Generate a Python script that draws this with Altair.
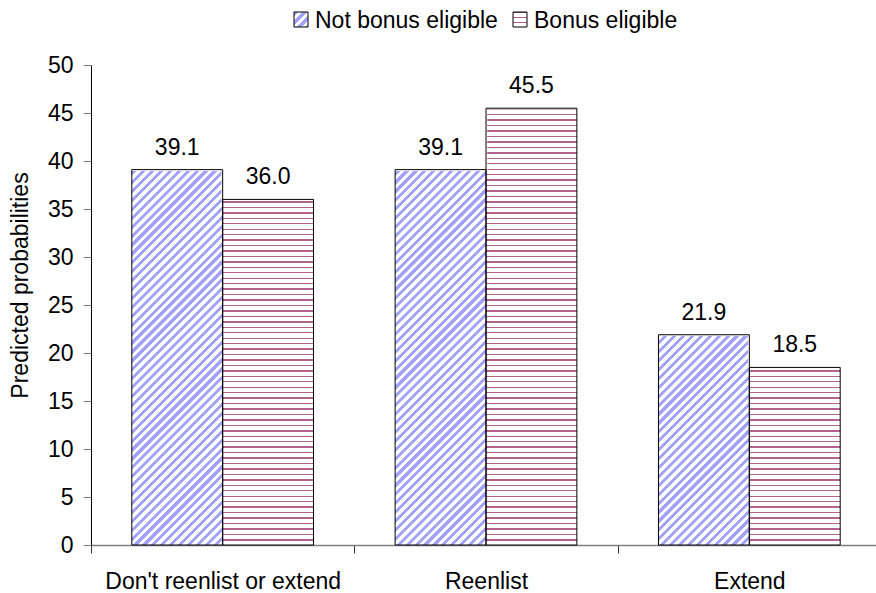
import math

import altair as alt
import pandas as pd

# ---- data -------------------------------------------------------------
categories = ["Don't reenlist or extend", "Reenlist", "Extend"]
series = ["Not bonus eligible", "Bonus eligible"]
not_bonus = [39.1, 39.1, 21.9]
bonus = [36.0, 45.5, 18.5]
y_ticks = [0, 5, 10, 15, 20, 25, 30, 35, 40, 45, 50]

rows = []
for cat, a, b in zip(categories, not_bonus, bonus):
    rows.append({"category": cat, "series": series[0], "value": a})
    rows.append({"category": cat, "series": series[1], "value": b})
df = pd.DataFrame(rows)

# ---- layout / style ---------------------------------------------------
Y_MAX = 50
PLOT_W, PLOT_H = 785, 480
X_RANGE = 790             # category axis runs slightly past the right edge
OFFSET_PAD = 0.449        # outer padding of the two bars inside a category
FONT = "Liberation Sans"
FS = 23

BLUE = "#a3a3ff"
MAROON = "#b2628b"

step = X_RANGE / len(categories)
bar_w = step / (2 + 2 * OFFSET_PAD)


def stripe_stops(color, count, duty):
    """Hard-edged repeating stops: `count` stripes of `color` over white."""
    stops = []
    i = 0
    while i < count:
        a = round(min(i / count, 1), 5)
        b = round(min((i + duty) / count, 1), 5)
        c = round(min((i + 1) / count, 1), 5)
        stops += [
            {"offset": a, "color": color},
            {"offset": b, "color": color},
            {"offset": b, "color": "white"},
            {"offset": c, "color": "white"},
        ]
        i += 1
    return stops


def diagonal_hatch(color, w, h, period, duty):
    # gradient vector chosen so stripes run at 45 degrees in pixel space
    k = (w + h) / (w * w + h * h)
    return {
        "gradient": "linear",
        "x1": 0, "y1": 0, "x2": round(k * w, 5), "y2": round(k * h, 5),
        "stops": stripe_stops(color, (w + h) / (math.sqrt(2) * period), duty),
    }


def horizontal_hatch(color, h, period, duty):
    return {
        "gradient": "linear",
        "x1": 0, "y1": 0, "x2": 0, "y2": 1,
        "stops": stripe_stops(color, h / period, duty),
    }


blue_fill = diagonal_hatch(BLUE, bar_w, PLOT_H, 6.3, 0.47)
red_fill = horizontal_hatch(MAROON, PLOT_H, 5.45, 0.25)
blue_swatch = diagonal_hatch(BLUE, 14, 15, 6.3, 0.47)
red_swatch = horizontal_hatch(MAROON, 15, 5.0, 0.28)

# ---- shared encodings -------------------------------------------------
x_axis = alt.Axis(
    title=None, labelAngle=0, labelFontSize=FS, labelColor="black",
    labelPadding=17, labelLimit=400, tickSize=8, tickColor="#333333",
    domainColor="#808080", domainWidth=1.5, tickBand="extent",
)
y_axis = alt.Axis(
    title="Predicted probabilities", values=y_ticks, grid=False,
    tickSize=8, tickColor="#808080", domainColor="black",
    labelFontSize=FS, labelColor="black", labelPadding=10,
    titleFontSize=FS, titleFontWeight="normal", titleColor="black",
    titleX=-71, titleY=220, titleAngle=270, titleBaseline="middle",
    titleLimit=600,
)
x_enc = alt.X(
    "category:N", sort=categories, axis=x_axis,
    scale=alt.Scale(domain=categories, range=[0, X_RANGE],
                    paddingInner=0, paddingOuter=0),
)
off_enc = alt.XOffset(
    "series:N", sort=series,
    scale=alt.Scale(domain=series, paddingInner=0, paddingOuter=OFFSET_PAD),
)
y_scale = alt.Scale(domain=[0, Y_MAX], nice=False)

base = alt.Chart(df).transform_calculate(top=str(Y_MAX))

# hatched fills cover the full plot height, then get trimmed to each value
blue_bars = base.transform_filter(alt.datum.series == series[0]).mark_bar(
    fill=blue_fill, strokeWidth=0
).encode(x=x_enc, xOffset=off_enc,
         y=alt.Y("top:Q", scale=y_scale, axis=y_axis))

red_bars = base.transform_filter(alt.datum.series == series[1]).mark_bar(
    fill=red_fill, strokeWidth=0
).encode(x=x_enc, xOffset=off_enc,
         y=alt.Y("top:Q", scale=y_scale, axis=y_axis))

# white cover above each value; its white stroke hides the anti-aliased seams
trim = base.mark_bar(fill="white", stroke="white", strokeWidth=2.5).encode(
    x=x_enc, xOffset=off_enc,
    y=alt.Y("value:Q", scale=y_scale, axis=y_axis), y2="top:Q",
)

outline = base.mark_bar(fillOpacity=0, stroke="black", strokeWidth=1).encode(
    x=x_enc, xOffset=off_enc,
    y=alt.Y("value:Q", scale=y_scale, axis=y_axis),
)

labels = base.mark_text(
    baseline="alphabetic", dy=-15, fontSize=FS, color="black"
).encode(
    x=x_enc, xOffset=off_enc,
    y=alt.Y("value:Q", scale=y_scale, axis=y_axis),
    text=alt.Text("value:Q", format=".1f"),
)

# ---- legend row at the top --------------------------------------------
leg_blue = pd.DataFrame({"series": [series[0]]})
leg_red = pd.DataFrame({"series": [series[1]]})


def swatch(data, fill, x0):
    return alt.Chart(data).mark_rect(fill=fill, stroke="black", strokeWidth=1).encode(
        x=alt.value(x0), x2=alt.value(x0 + 14), y=alt.value(-53), y2=alt.value(-38)
    )


def legend_text(data, x0):
    return alt.Chart(data).mark_text(
        align="left", baseline="alphabetic", fontSize=FS, color="black"
    ).encode(x=alt.value(x0), y=alt.value(-37.3), text="series:N")


chart = alt.layer(
    blue_bars, red_bars, trim, outline, labels,
    swatch(leg_blue, blue_swatch, 203), legend_text(leg_blue, 224),
    swatch(leg_red, red_swatch, 422), legend_text(leg_red, 443),
).properties(
    width=PLOT_W, height=PLOT_H,
    padding={"left": 91, "top": 65, "right": 0, "bottom": 48},
    autosize=alt.AutoSizeParams(type="none"),
).configure(font=FONT).configure_view(strokeWidth=0)

chart.save("out.html", embed_options={"renderer": "svg", "actions": False})
